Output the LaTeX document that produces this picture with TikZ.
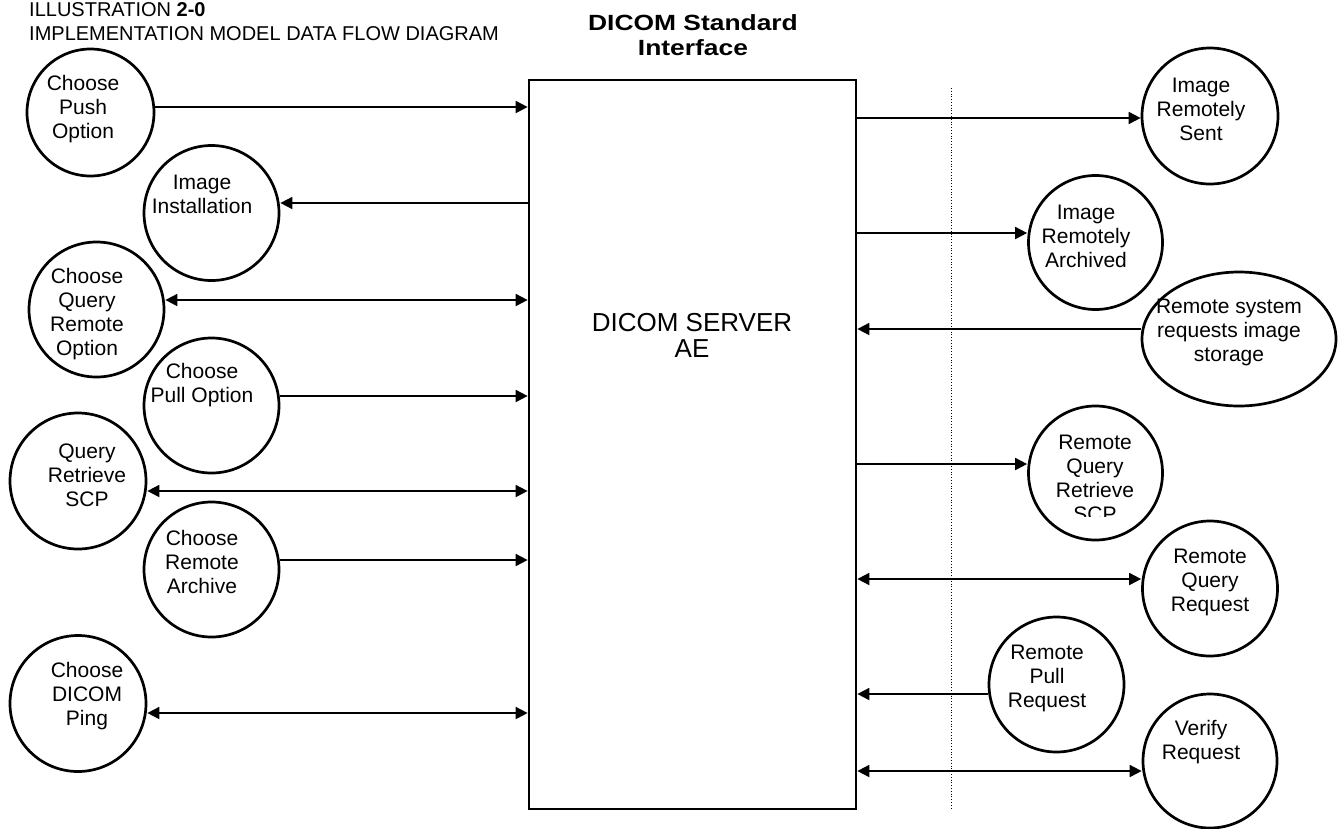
\documentclass[tikz,border=0pt]{standalone}
\usepackage{fontspec}
\setmainfont{Liberation Sans}
\newfontfamily\headfont[FakeStretch=1.2]{Liberation Sans}
\usetikzlibrary{arrows.meta,shapes.geometric}

\begin{document}
\begin{tikzpicture}[x=1pt,y=-1pt,
  proc/.style={circle, draw, line width=2.7pt, inner sep=0pt, minimum size=#1},
  procell/.style={ellipse, draw, line width=2.7pt, inner sep=0pt, minimum width=194pt, minimum height=134pt},
  serverbox/.style={draw, line width=2.7pt, inner sep=0pt, minimum width=327pt, minimum height=729pt},
  lbl/.style={align=center, inner sep=0pt, font=\fontsize{21}{24}\selectfont},
  tip/.tip={Triangle[length=12pt,width=12pt]},
  flowin/.style={line width=1.8pt, -tip},
  flowout/.style={line width=1.8pt, tip-},
  flowboth/.style={line width=1.8pt, tip-tip},
]
\useasboundingbox (0,0) rectangle (1340,828);

% page heading
\node[anchor=base west, inner sep=0pt, font=\fontsize{20}{24}\selectfont] (title1) at (29,16) {ILLUSTRATION \textbf{2-0}};
\node[anchor=base west, inner sep=0pt, font=\fontsize{20}{24}\selectfont] (title2) at (29,40) {IMPLEMENTATION MODEL DATA FLOW DIAGRAM};
\node[align=center, inner sep=0pt, font=\headfont\bfseries\fontsize{22}{24.5}\selectfont] (iface) at (693,35) {DICOM Standard\\Interface};

% the application entity
\node[serverbox] (ae) at (692.5,444.5) {};
\node[align=center, inner sep=0pt, font=\fontsize{26}{26}\selectfont] (aelabel) at (692,335) {DICOM SERVER\\AE};

% interface boundary
\coordinate (bndtop) at (951,88);
\coordinate (bndbot) at (951,809);
\draw[line width=0.8pt, dotted] (bndtop) -- (bndbot);

% local real-world activities
\node[proc=127pt] (push)  at (90.5,112.5) {};
\node[proc=135pt] (inst)  at (211.5,213) {};
\node[proc=135pt] (qrem)  at (96.5,309.5) {};
\node[proc=135pt] (pull)  at (211.5,405.5) {};
\node[proc=136pt] (qrscp) at (78,481) {};
\node[proc=135pt] (rarch) at (211.5,569.5) {};
\node[proc=136pt] (ping)  at (78,703.5) {};

\node[lbl] (tpush)  at (83,109)  {Choose\\Push\\Option};
\node[lbl] (tinst)  at (202,194) {Image\\Installation};
\node[lbl] (tqrem)  at (87,314)  {Choose\\Query\\Remote\\Option};
\node[lbl] (tpull)  at (202,385) {Choose\\Pull Option};
\node[lbl] (tqrscp) at (87,475)  {Query\\Retrieve\\SCP};
\node[lbl] (trarch) at (202,562) {Choose\\Remote\\Archive};
\node[lbl] (tping)  at (87,696)  {Choose\\DICOM\\Ping};

% remote real-world activities
\node[proc=136pt] (sent)   at (1210,116) {};
\node[proc=134pt] (archd)  at (1095.5,242.5) {};
\node[procell]    (store)  at (1239,339) {};
\node[proc=134pt] (rqr)    at (1095.5,473) {};
\node[proc=135pt] (rqreq)  at (1210,588.5) {};
\node[proc=135pt] (rpull)  at (1056.5,684.5) {};
\node[proc=134pt] (verify) at (1210,761) {};

\node[lbl] (tsent)   at (1201,109)  {Image\\Remotely\\Sent};
\node[lbl] (tarchd)  at (1086,236)  {Image\\Remotely\\Archived};
\node[lbl] (tstore)  at (1229,332)  {Remote system\\requests image\\storage};
\begin{scope}
  \clip (1000,400) rectangle (1190,516);
  \node[lbl] (trqr) at (1095,478) {Remote\\Query\\Retrieve\\SCP};
\end{scope}
\node[lbl] (trqreq)  at (1210,582)  {Remote\\Query\\Request};
\node[lbl] (trpull)  at (1047,678)  {Remote\\Pull\\Request};
\node[lbl] (tverify) at (1201,742)  {Verify\\Request};

% flow heights
\coordinate (f1) at (0,107);
\coordinate (f2) at (0,203);
\coordinate (f3) at (0,300);
\coordinate (f4) at (0,396);
\coordinate (f5) at (0,491);
\coordinate (f6) at (0,560);
\coordinate (f7) at (0,713);
\coordinate (g1) at (0,118);
\coordinate (g2) at (0,233);
\coordinate (g3) at (0,329);
\coordinate (g4) at (0,464);
\coordinate (g5) at (0,579);
\coordinate (g6) at (0,694);
\coordinate (g7) at (0,771);

% data flows, left side
\draw[flowin]   (push.east |- f1)  -- (ae.west |- f1);
\draw[flowout]  (inst.east |- f2)  -- (ae.west |- f2);
\draw[flowboth] (qrem.east |- f3)  -- (ae.west |- f3);
\draw[flowin]   (pull.east |- f4)  -- (ae.west |- f4);
\draw[flowboth] (qrscp.east |- f5) -- (ae.west |- f5);
\draw[flowin]   (rarch.east |- f6) -- (ae.west |- f6);
\draw[flowboth] (ping.east |- f7)  -- (ae.west |- f7);

% data flows, right side
\draw[flowin]   (ae.east |- g1) -- (sent.west |- g1);
\draw[flowin]   (ae.east |- g2) -- (archd.west |- g2);
\draw[flowout]  (ae.east |- g3) -- (store.west |- g3);
\draw[flowin]   (ae.east |- g4) -- (rqr.west |- g4);
\draw[flowboth] (ae.east |- g5) -- (rqreq.west |- g5);
\draw[flowout]  (ae.east |- g6) -- (rpull.west |- g6);
\draw[flowboth] (ae.east |- g7) -- (verify.west |- g7);
\end{tikzpicture}
\end{document}
